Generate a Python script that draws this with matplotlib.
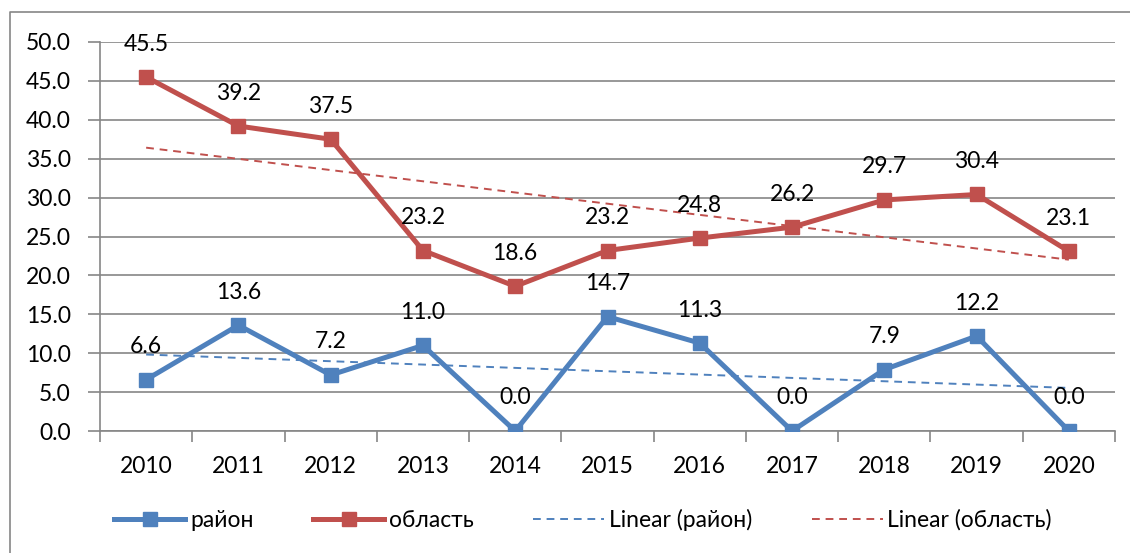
import matplotlib
matplotlib.use("Agg")
import matplotlib.pyplot as plt
import numpy as np

plt.rcParams['font.family'] = ['Lato', 'DejaVu Sans']

years = ["2010", "2011", "2012", "2013", "2014", "2015", "2016", "2017", "2018", "2019", "2020"]
raion = [6.6, 13.6, 7.2, 11.0, 0.0, 14.7, 11.3, 0.0, 7.9, 12.2, 0.0]
oblast = [45.5, 39.2, 37.5, 23.2, 18.6, 23.2, 24.8, 26.2, 29.7, 30.4, 23.1]

blue = "#4F81BD"
red = "#C0504D"
fs = 16.5

fig = plt.figure(figsize=(11.3, 5.53), dpi=100)
ax = fig.add_axes([100 / 1130, 1 - 431 / 553, 1015 / 1130, 389 / 553])

x = np.arange(len(years))

# linear trend lines (least squares, like Excel)
kr = np.polyfit(x, raion, 1)
ko = np.polyfit(x, oblast, 1)

ax.plot(x, raion, color=blue, lw=3.6, marker="s", ms=10.5, label="район", zorder=4)
ax.plot(x, oblast, color=red, lw=3.6, marker="s", ms=10.5, label="область", zorder=4)
ax.plot(x, np.polyval(kr, x), color=blue, lw=1.4, ls=(0, (4, 3)), label="Linear (район)", zorder=3)
ax.plot(x, np.polyval(ko, x), color=red, lw=1.4, ls=(0, (4, 3)), label="Linear (область)", zorder=3)

for xi, v in zip(x, raion):
    ax.annotate(f"{v:.1f}", (xi, v), xytext=(0, 33), textcoords="offset pixels",
                ha="center", va="center", fontsize=fs, zorder=5)
for xi, v in zip(x, oblast):
    ax.annotate(f"{v:.1f}", (xi, v), xytext=(0, 33), textcoords="offset pixels",
                ha="center", va="center", fontsize=fs, zorder=5)

ax.set_xlim(-0.5, len(years) - 0.5)
ax.set_ylim(0, 50)
ax.set_yticks(np.arange(0, 50.1, 5))
ax.set_yticklabels([f"{v:.1f}" for v in np.arange(0, 50.1, 5)], fontsize=fs)
ax.set_xticks(x)
ax.set_xticklabels(years, fontsize=fs)
ax.set_xticks(np.arange(-0.5, len(years)), minor=True)
ax.tick_params(axis="x", which="major", length=0, pad=18)
ax.tick_params(axis="x", which="minor", length=8, color="#868686", width=1.2)
ax.tick_params(axis="y", length=9, color="#868686", width=1.2, pad=12)
ax.grid(axis="y", color="#868686", lw=1.2)
ax.set_axisbelow(True)
for s in ["top", "right"]:
    ax.spines[s].set_visible(False)
ax.spines["left"].set_color("#868686")
ax.spines["bottom"].set_color("#868686")
ax.spines["left"].set_linewidth(1.2)
ax.spines["bottom"].set_linewidth(1.2)

fig.legend(loc="center", bbox_to_anchor=(583 / 1130, 1 - 520 / 553), ncol=4, frameon=False,
           fontsize=fs, handlelength=3.1, columnspacing=2.6, handletextpad=0.2)

# outer chart frame
fig.add_artist(plt.Line2D([10 / 1130, 10 / 1130, 1.0], [0.0, 1 - 12 / 553, 1 - 12 / 553],
                          transform=fig.transFigure, color="#868686", lw=1.2))

fig.savefig("out.png", dpi=100)
